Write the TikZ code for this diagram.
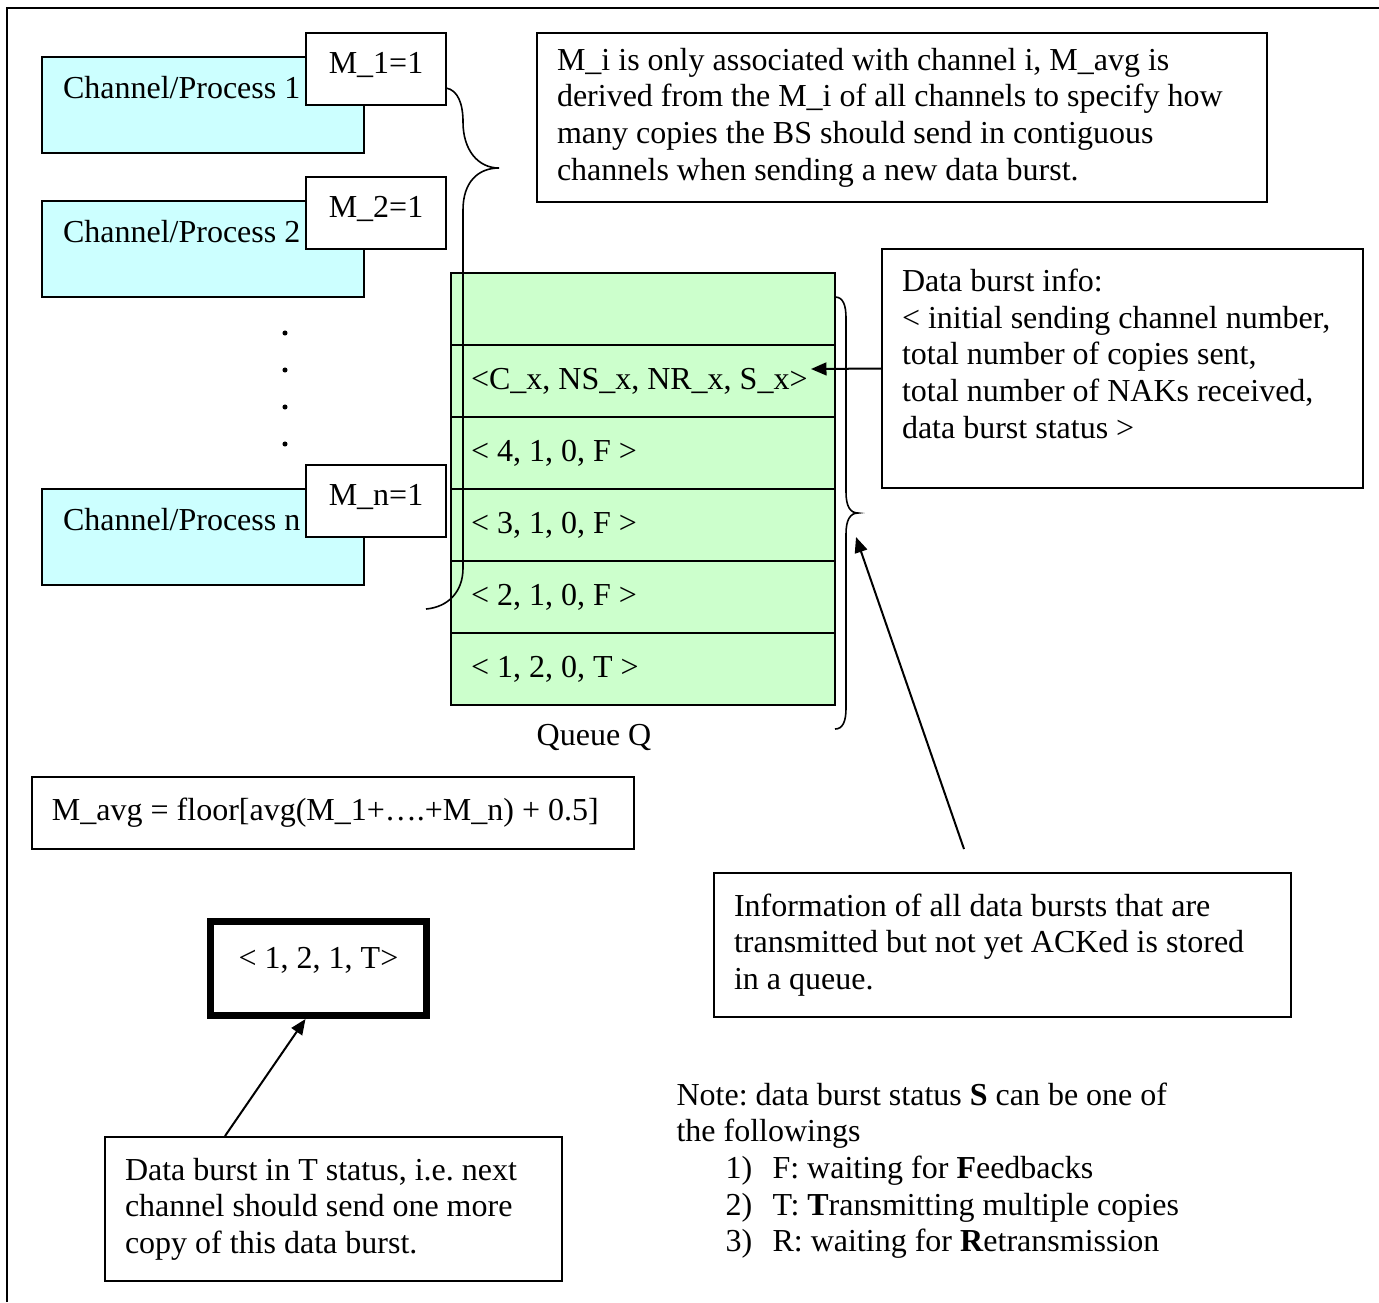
\documentclass[tikz,border=0pt]{standalone}
\usepackage{fontspec}
\setmainfont{Liberation Serif}
\usetikzlibrary{arrows.meta}

\definecolor{chancyan}{HTML}{CCFFFF}
\definecolor{queuegreen}{HTML}{CCFFCC}
\newdimen\px
\px=0.375pt

\tikzset{
  chanbox/.style={draw, line width=0.75pt, fill=chancyan, text width=280\px, inner xsep=21\px, minimum height=96\px, align=flush left, text depth=36\px},
  mbox/.style={draw, line width=0.75pt, fill=white, minimum width=140\px, minimum height=72\px, text depth=12\px},
  qrow/.style={draw, line width=0.75pt, fill=queuegreen, text width=344\px, inner xsep=20\px, minimum height=72\px, align=flush left},
  txtbox/.style={draw, line width=0.75pt, fill=white, inner xsep=20\px, align=flush left},
  ptr/.style={line width=0.75pt, -{Triangle[length=5.8pt,width=4.8pt]}},
  curly/.style={line width=0.6pt},
}

\begin{document}
\begin{tikzpicture}[x=0.375pt, y=-0.375pt, font=\fontsize{12}{13.75}\selectfont\frenchspacing]
\useasboundingbox (0,0) rectangle (1379,1302);
\draw[line width=0.75pt] (7,1302) -- (7,8) -- (1379,8);

 \node[chanbox] at (203,105) (ch1) {Channel/Process 1};
 \node[mbox] at (376,69) (m1) {M\_1=1};
 \node[chanbox] at (203,249) (ch2) {Channel/Process 2};
 \node[mbox] at (376,213) (m2) {M\_2=1};

\foreach \y in {333,370,407,444}
  \fill (285,\y) circle (0.95pt);

 \node[chanbox] at (203,537) (chn) {Channel/Process n};
 \node[mbox] at (376,501) (mn) {M\_n=1};

% queue Q
\foreach \i/\entry in {0/{}, 1/{<C\_x, NS\_x, NR\_x, S\_x>}, 2/{< 4, 1, 0, F >}, 3/{< 3, 1, 0, F >}, 4/{< 2, 1, 0, F >}, 5/{< 1, 2, 0, T >}}
  \node[qrow] at (643,309+72*\i) (q\i) {\entry};
 \node at (594,737) (qlabel) {Queue Q};

\draw[curly] (446,88) .. controls (458,90) and (463,104) .. (463,122) .. controls (463,150) and (478,168) .. (499,168) .. controls (478,168) and (463,182) .. (463,210) -- (463,568) .. controls (463,592) and (448,607) .. (426,609);
\draw[curly] (835,297) .. controls (843,297) and (846,305) .. (846,318) -- (846,492) .. controls (846,506) and (850,513) .. (858,513) .. controls (850,513) and (846,520) .. (846,534) -- (846,708) .. controls (846,721) and (843,729) .. (835,729);

 \node[txtbox, text width=690\px, minimum height=169\px] at (902,117.5) (topnote) {M\_i is only associated with channel i, M\_avg is\\derived from the M\_i of all channels to specify how\\many copies the BS should send in contiguous\\channels when sending a new data burst.};

 \node[txtbox, text width=441\px, minimum height=239\px] at (1122.5,368.5) (burstinfo) {Data burst info:\\< initial sending channel number,\\total number of copies sent,\\total number of NAKs received,\\data burst status >\\[-18\px]\strut};

 \node[txtbox, text width=562\px, minimum height=72\px] at (333,813) (mavg) {M\_avg = floor[avg(M\_1+….+M\_n) + 0.5]};

 \node[draw, line width=2.6pt, fill=white, minimum width=216\px, minimum height=94\px, text depth=22\px] at (318.5,968.5) (tbox) {< 1, 2, 1, T>};

 \node[txtbox, text width=537\px, minimum height=144\px] at (1002.5,945) (storeinfo) {Information of all data bursts that are\\transmitted but not yet ACKed is stored\\in a queue.};

 \node[txtbox, text width=417\px, minimum height=144\px] at (333.5,1209) (tstatus) {Data burst in T status, i.e. next\\channel should send one more\\copy of this data burst.};

 \node[anchor=north west, inner sep=0pt, align=left] at (676,1082) (note) {Note: data burst status \textbf{S} can be one of\\the followings\\\hspace*{49\px}\makebox[47\px][l]{1)}F: waiting for \textbf{F}eedbacks\\\hspace*{49\px}\makebox[47\px][l]{2)}T: \textbf{T}ransmitting multiple copies\\\hspace*{49\px}\makebox[47\px][l]{3)}R: waiting for \textbf{R}etransmission};

\coordinate (rowtip) at (811,369);
\coordinate (storefoot) at (964,849);
\coordinate (bracegap) at (856,537);
\draw[ptr] (burstinfo.west) -- (rowtip);
\draw[ptr] (storefoot) -- (bracegap);
\draw[ptr] ([xshift=121\px]tstatus.north west) -- ([xshift=-13\px]tbox.south);

\end{tikzpicture}
\end{document}
